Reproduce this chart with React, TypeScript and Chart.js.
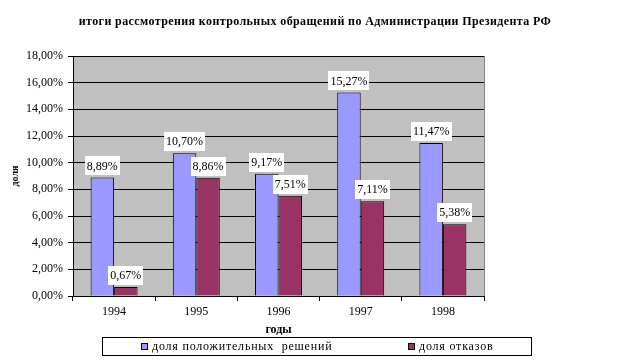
import React, { useEffect, useRef } from "react";
import { Chart, registerables } from "chart.js";

Chart.register(...registerables);

// ---- data ----
const years = ["1994", "1995", "1996", "1997", "1998"];
const positiveShare = [8.89, 10.7, 9.17, 15.27, 11.47];
const refusalShare = [0.67, 8.86, 7.51, 7.11, 5.38];
const seriesLabels = ["доля положительных  решений", "доля отказов"];
const seriesColors = ["#9999FF", "#993366"];
const chartTitle =
  "итоги рассмотрения контрольных обращений по Администрации Президента РФ";
const xTitle = "годы";
const yTitle = "доля";
const yMin = 0;
const yMax = 18;
const yStep = 2;

const SERIF = "'Liberation Serif', 'Times New Roman', serif";
const fmt = (v: number) => v.toFixed(2).replace(".", ",") + "%";

const plotBackground = {
  id: "plotBackground",
  beforeDraw(chart: any) {
    const { ctx, chartArea } = chart;
    const l = Math.round(chartArea.left);
    const t = Math.round(chartArea.top);
    const r = Math.round(chartArea.right);
    const b = Math.round(chartArea.bottom);
    ctx.save();
    ctx.fillStyle = "#C0C0C0";
    ctx.fillRect(l, t, r - l, b - t);
    ctx.strokeStyle = "#808080";
    ctx.lineWidth = 1;
    ctx.strokeRect(l + 0.5, t + 0.5, r - l, b - t);
    ctx.restore();
  },
};

const centeredTitle = {
  id: "centeredTitle",
  afterDraw(chart: any) {
    const { ctx, width } = chart;
    ctx.save();
    ctx.font = `bold 12px ${SERIF}`;
    (ctx as any).letterSpacing = "0.4px";
    ctx.fillStyle = "#000000";
    ctx.textAlign = "center";
    ctx.textBaseline = "middle";
    ctx.fillText(chartTitle, width / 2, 22);
    ctx.restore();
  },
};

const valueLabels = {
  id: "valueLabels",
  afterDatasetsDraw(chart: any) {
    const { ctx } = chart;
    ctx.save();
    ctx.font = `12px ${SERIF}`;
    ctx.textAlign = "center";
    ctx.textBaseline = "middle";
    chart.data.datasets.forEach((ds: any, i: number) => {
      const meta = chart.getDatasetMeta(i);
      meta.data.forEach((el: any, j: number) => {
        const text = fmt(ds.data[j]);
        const w = ctx.measureText(text).width + 4;
        const h = 19;
        const bottom = el.y - 2;
        ctx.fillStyle = "#FFFFFF";
        ctx.fillRect(Math.round(el.x - w / 2), Math.round(bottom - h), Math.round(w), h);
        ctx.fillStyle = "#000000";
        ctx.fillText(text, el.x, bottom - h / 2 + 0.5);
      });
    });
    ctx.restore();
  },
};

const boxedLegend = {
  id: "boxedLegend",
  afterDraw(chart: any) {
    const { ctx } = chart;
    const boxL = 102.5, boxT = 337.5, boxW = 429, boxH = 18;
    const itemX = [141, 408];
    ctx.save();
    ctx.strokeStyle = "#000000";
    ctx.lineWidth = 1;
    ctx.strokeRect(boxL, boxT, boxW, boxH);
    ctx.font = `12px ${SERIF}`;
    (ctx as any).letterSpacing = "0.8px";
    ctx.textAlign = "left";
    ctx.textBaseline = "middle";
    chart.data.datasets.forEach((ds: any, i: number) => {
      const x = itemX[i];
      ctx.fillStyle = ds.backgroundColor;
      ctx.fillRect(x, 343, 7, 7);
      ctx.strokeStyle = "#000000";
      ctx.strokeRect(x + 0.5, 343.5, 6, 6);
      ctx.fillStyle = "#000000";
      ctx.fillText(ds.label, x + 11, 347);
    });
    ctx.restore();
  },
};

export default function App() {
  const ref = useRef<HTMLCanvasElement | null>(null);
  useEffect(() => {
    document.body.style.margin = "0";
    if (!ref.current) return;
    Chart.defaults.font.family = SERIF;
    Chart.defaults.color = "#000000";
    const chart = new Chart(ref.current, {
      type: "bar",
      data: {
        labels: years,
        datasets: [
          {
            label: seriesLabels[0],
            data: positiveShare,
            backgroundColor: seriesColors[0],
            borderColor: "#000000",
            borderWidth: 1,
            barPercentage: 1,
            categoryPercentage: 2 / 3.5,
          },
          {
            label: seriesLabels[1],
            data: refusalShare,
            backgroundColor: seriesColors[1],
            borderColor: "#000000",
            borderWidth: 1,
            barPercentage: 1,
            categoryPercentage: 2 / 3.5,
          },
        ],
      },
      options: {
        responsive: false,
        animation: false,
        layout: { padding: { left: 0, right: 146, top: 56, bottom: 0 } },
        plugins: {
          legend: { display: false },
          tooltip: { enabled: false },
          title: { display: false },
        },
        scales: {
          x: {
            offset: true,
            grid: {
              offset: true,
              drawOnChartArea: false,
              color: "#000000",
              tickLength: 5,
            },
            border: { display: true, color: "#000000" },
            ticks: {
              color: "#000000",
              font: { family: SERIF, size: 12 },
              padding: 4,
              maxRotation: 0,
            },
            title: {
              display: true,
              text: xTitle,
              color: "#000000",
              font: { family: SERIF, size: 12, weight: "bold" },
              padding: { top: 0, bottom: 25 },
            },
            afterFit: (s: any) => {
              s.height = 66;
            },
          },
          y: {
            min: yMin,
            max: yMax,
            grid: { color: "#000000", tickLength: 5 },
            border: { display: true, color: "#000000" },
            ticks: {
              stepSize: yStep,
              color: "#000000",
              font: { family: SERIF, size: 12 },
              padding: 5,
              callback: (v: any) => fmt(Number(v)),
            },
            title: {
              display: true,
              text: yTitle,
              color: "#000000",
              font: { family: SERIF, size: 10, weight: "bold" },
              padding: { top: 9, bottom: 0 },
            },
            afterFit: (s: any) => {
              s.width = 73;
            },
          },
        },
      } as any,
      plugins: [plotBackground, valueLabels, boxedLegend, centeredTitle],
    });
    return () => chart.destroy();
  }, []);
  return (
    <div style={{ width: 630, height: 362 }}>
      <canvas ref={ref} width={630} height={362} />
    </div>
  );
}
